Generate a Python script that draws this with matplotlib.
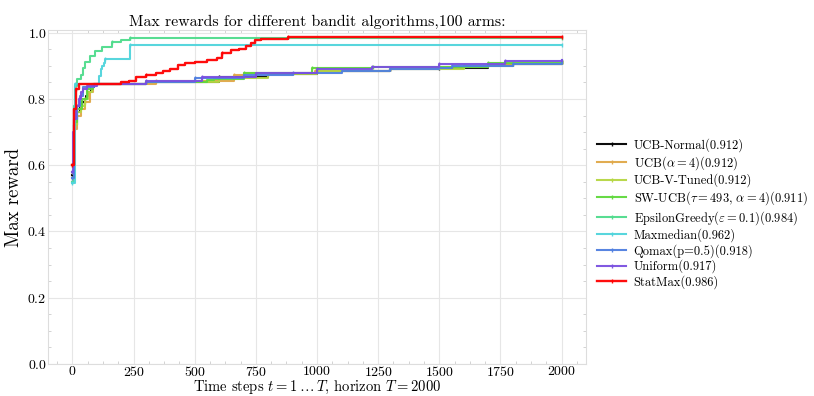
import matplotlib
matplotlib.use('Agg')
import matplotlib.pyplot as plt
from matplotlib.ticker import AutoMinorLocator

plt.rcParams['font.family'] = ['cmr10', 'DejaVu Serif']
plt.rcParams['mathtext.fontset'] = 'cm'
plt.rcParams['axes.formatter.use_mathtext'] = True
plt.rcParams['axes.unicode_minus'] = False

# step breakpoints (time step, max reward so far)
ucb_normal_t = [0, 5, 20, 30, 40, 50, 55, 65, 75, 90, 300, 600, 800, 1000, 1300, 1500, 1700, 2000]
ucb_normal_v = [0.57, 0.72, 0.76, 0.78, 0.79, 0.80, 0.81, 0.82, 0.835, 0.845, 0.85, 0.865, 0.875, 0.885, 0.89, 0.895, 0.905, 0.912]

ucb_t = [0, 5, 20, 35, 50, 70, 85, 340, 660, 700, 990, 1300, 1500, 1700, 2000]
ucb_v = [0.56, 0.71, 0.75, 0.77, 0.79, 0.82, 0.845, 0.855, 0.872, 0.88, 0.885, 0.893, 0.897, 0.905, 0.912]

ucbv_t = [0, 5, 20, 35, 50, 65, 80, 300, 600, 800, 1000, 1300, 1600, 1800, 2000]
ucbv_v = [0.58, 0.72, 0.76, 0.78, 0.80, 0.82, 0.845, 0.85, 0.862, 0.876, 0.886, 0.892, 0.9, 0.907, 0.912]

swucb_t = [0, 5, 20, 40, 60, 85, 300, 550, 580, 700, 980, 1230, 1700, 2000]
swucb_v = [0.60, 0.73, 0.77, 0.80, 0.83, 0.845, 0.85, 0.858, 0.86, 0.878, 0.893, 0.897, 0.91, 0.911]

eps_t = [0, 5, 12, 20, 33, 45, 53, 70, 94, 120, 163, 200, 237, 2000]
eps_v = [0.55, 0.78, 0.84, 0.86, 0.872, 0.895, 0.911, 0.93, 0.946, 0.958, 0.973, 0.978, 0.984, 0.984]

maxmed_t = [0, 12, 110, 115, 122, 128, 135, 237, 2000]
maxmed_v = [0.545, 0.845, 0.87, 0.89, 0.90, 0.91, 0.92, 0.962, 0.962]

qomax_t = [0, 5, 20, 30, 45, 90, 300, 500, 700, 900, 1100, 1300, 1500, 1550, 1800, 2000]
qomax_v = [0.56, 0.74, 0.78, 0.81, 0.835, 0.845, 0.852, 0.862, 0.872, 0.878, 0.885, 0.89, 0.893, 0.9, 0.907, 0.918]

uniform_t = [0, 3, 8, 15, 25, 35, 45, 60, 100, 300, 531, 750, 1000, 1224, 1500, 1770, 2000]
uniform_v = [0.58, 0.70, 0.74, 0.78, 0.80, 0.82, 0.83, 0.84, 0.846, 0.855, 0.867, 0.878, 0.89, 0.898, 0.905, 0.914, 0.917]

statmax_t = [0, 5, 15, 25, 200, 230, 260, 300, 340, 370, 400, 430, 460, 500, 550, 590,
             610, 650, 680, 710, 730, 745, 770, 880, 2000]
statmax_v = [0.60, 0.77, 0.83, 0.845, 0.85, 0.855, 0.865, 0.872, 0.878, 0.885, 0.892, 0.903, 0.908, 0.912, 0.918, 0.925,
             0.94, 0.948, 0.952, 0.96, 0.968, 0.978, 0.981, 0.986, 0.986]

labels = ['UCB-Normal(0.912)', r'UCB($\alpha=4$)(0.912)', 'UCB-V-Tuned(0.912)',
          r'SW-UCB($\tau=493$, $\alpha=4$)(0.911)', r'EpsilonGreedy($\varepsilon=0.1$)(0.984)',
          'Maxmedian(0.962)', 'Qomax(p=0.5)(0.918)', 'Uniform(0.917)', 'StatMax(0.986)']
colors = ['black', '#e0a848', '#b5d642', '#5fd83c', '#4fdc8c', '#4fd4dc', '#4f7fe0', '#7a50e0', 'red']
series = [(ucb_normal_t, ucb_normal_v), (ucb_t, ucb_v), (ucbv_t, ucbv_v), (swucb_t, swucb_v),
          (eps_t, eps_v), (maxmed_t, maxmed_v), (qomax_t, qomax_v), (uniform_t, uniform_v),
          (statmax_t, statmax_v)]

fig = plt.figure(figsize=(8.14, 3.96), dpi=100)
ax = fig.add_axes([0.059, 0.081, 0.661, 0.843])

for (t, v), lab, c in zip(series, labels, colors):
    ax.plot(t, v, drawstyle='steps-post', color=c, lw=1.7 if c == 'red' else 1.5,
            marker='|', ms=3, markevery=0.12, label=lab, alpha=0.95)

ax.set_ylim(bottom=0)
ax.set_xticks([0, 250, 500, 750, 1000, 1250, 1500, 1750, 2000])
ax.set_yticks([0.0, 0.2, 0.4, 0.6, 0.8, 1.0])
ax.xaxis.set_minor_locator(AutoMinorLocator(4))
ax.yaxis.set_minor_locator(AutoMinorLocator(4))
ax.grid(True, color='#e6e6e6', lw=0.8)
ax.set_axisbelow(True)
for s in ax.spines.values():
    s.set_color('#dddddd')
    s.set_linewidth(0.8)
ax.tick_params(which='both', direction='in', top=True, right=True, color='#cccccc', labelsize=10, pad=1)
ax.tick_params(which='major', length=0)
ax.tick_params(which='minor', length=2)

ax.set_title('Max rewards for different bandit algorithms,100 arms:', fontsize=11.4, pad=3)
ax.set_xlabel(r'Time steps $t = 1 \dots T$, horizon $T = 2000$', fontsize=10.5, labelpad=0)
ax.set_ylabel('Max reward', fontsize=13.5, labelpad=3)

ax.legend(loc='center left', bbox_to_anchor=(1.0, 0.45), frameon=False, fontsize=9,
          handlelength=2.3, handletextpad=0.6, labelspacing=0.15)

fig.savefig('out.png', dpi=100)
